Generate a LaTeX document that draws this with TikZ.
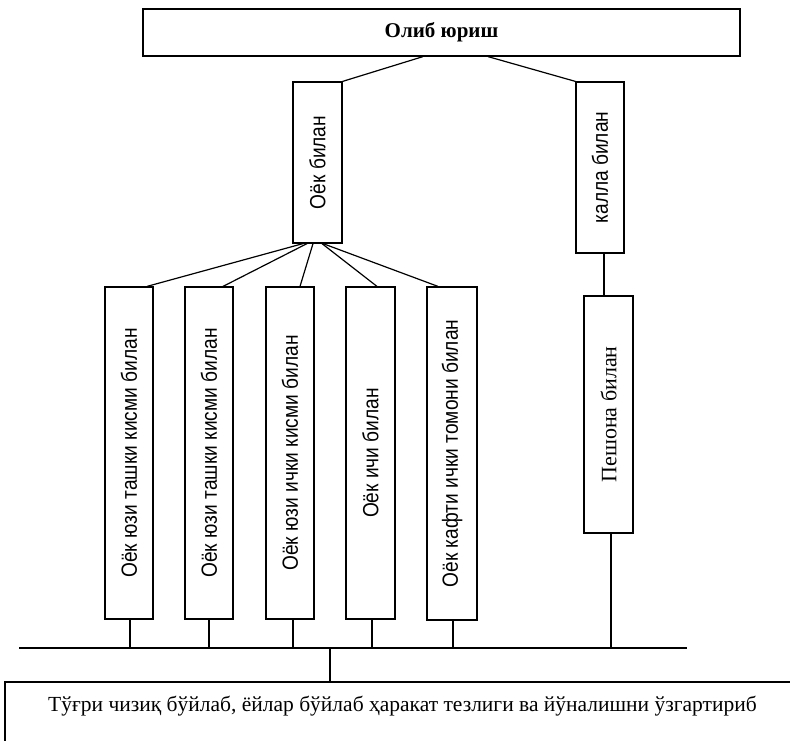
\documentclass[tikz,border=0pt]{standalone}
\usepackage{fontspec}
\setmainfont{Liberation Serif}
\newfontfamily\narrowsans[FakeStretch=0.87]{Liberation Sans}
\newcommand{\vlab}{\narrowsans\fontsize{22}{24}\selectfont}
\newcommand{\vlabserif}{\rmfamily\fontsize{22}{24}\selectfont}
\begin{document}
\begin{tikzpicture}[x=1pt,y=-1pt,
  line width=1.2pt,
  box/.style={draw, rectangle, inner sep=0pt, anchor=center},
  vbox/.style={box, minimum width=48pt}]
\useasboundingbox (0,0) rectangle (790,740);

% top level
\node[box, minimum width=597pt, minimum height=47pt,
      font=\bfseries\fontsize{21}{23}\selectfont] (top) at (441.5,32.5) {Олиб юриш};

% second level
\node[vbox, minimum width=49pt, minimum height=161pt] (oyok) at (317.5,162.5)
  {\rotatebox{90}{\vlab Оёк билан}};
\node[vbox, minimum height=171pt] (kalla) at (600,167.5)
  {\rotatebox{90}{\vlab калла билан}};

% third level
\node[vbox, minimum height=332pt] (b1) at (129,453)
  {\rotatebox{90}{\vlab Оёк юзи ташки кисми билан}};
\node[vbox, minimum height=332pt] (b2) at (209,453)
  {\rotatebox{90}{\vlab Оёк юзи ташки кисми билан}};
\node[vbox, minimum height=332pt] (b3) at (290,453)
  {\rotatebox{90}{\vlab Оёк юзи ички кисми билан}};
\node[vbox, minimum width=49pt, minimum height=332pt] (b4) at (370.5,453)
  {\rotatebox{90}{\vlab Оёк ичи билан}};
\node[vbox, minimum width=50pt, minimum height=333pt] (b5) at (452,453.5)
  {\rotatebox{90}{\vlab Оёк кафти ички томони билан}};
\node[vbox, minimum width=49pt, minimum height=237pt] (pesh) at (608.5,414.5)
  {\rotatebox{90}{\vlabserif Пешона билан}};

% result box, running past the page edge
\begin{scope}
\clip (0,0) rectangle (790,740);
\draw (5,682) rectangle (800,760);
\end{scope}
\node[font=\fontsize{21.5}{23}\selectfont, anchor=base] (res) at (402.5,711)
  {Тўғри чизиқ бўйлаб, ёйлар бўйлаб ҳаракат тезлиги ва йўналишни ўзгартириб};
\coordinate (restop) at (330,682);

% collecting line
\coordinate (busL) at (19,648);
\coordinate (busR) at (687,648);
\coordinate (busM) at (330,648);
\draw (busL) -- (busR);

% connectors
\draw ([xshift=-18.5pt]top.south) -- (oyok.north east);
\draw ([xshift=46.5pt]top.south) -- (kalla.north west);

\draw ([xshift=-14.5pt]oyok.south) -- ([xshift=18pt]b1.north);
\draw ([xshift=-10.5pt]oyok.south) -- ([xshift=14pt]b2.north);
\draw ([xshift=-4.5pt]oyok.south) -- ([xshift=10pt]b3.north);
\draw ([xshift=4.5pt]oyok.south) -- ([xshift=6.5pt]b4.north);
\draw ([xshift=5.5pt]oyok.south) -- ([xshift=-14pt]b5.north);

\draw ([xshift=4pt]kalla.south) -- ([xshift=-4.5pt]pesh.north);

\draw ([xshift=1pt]b1.south) -- ([xshift=1pt]b1.south |- busL);
\draw (b2.south) -- (b2.south |- busL);
\draw ([xshift=3pt]b3.south) -- ([xshift=3pt]b3.south |- busL);
\draw ([xshift=1.5pt]b4.south) -- ([xshift=1.5pt]b4.south |- busL);
\draw ([xshift=1pt]b5.south) -- ([xshift=1pt]b5.south |- busL);
\draw ([xshift=2.5pt]pesh.south) -- ([xshift=2.5pt]pesh.south |- busL);

\draw (busM) -- (restop);
\end{tikzpicture}
\end{document}
